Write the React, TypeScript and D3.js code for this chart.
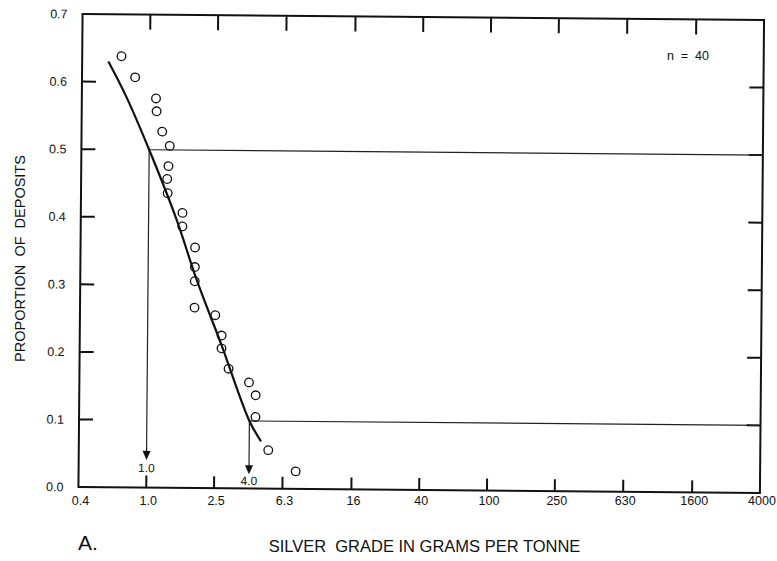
import React from "react";
import * as d3 from "d3";

// tick values
const xTicks = [0.4, 1.0, 2.5, 6.3, 16, 40, 100, 250, 630, 1600, 4000];
const xTickLabels = ["0.4", "1.0", "2.5", "6.3", "16", "40", "100", "250", "630", "1600", "4000"];
const yTicks = [0, 0.1, 0.2, 0.3, 0.4, 0.5, 0.6, 0.7];

// deposits (grade g/t, proportion)
const grade = [0.68, 0.82, 1.09, 1.1, 1.19, 1.32, 1.3, 1.28, 1.29, 1.58, 1.58, 1.88, 1.88, 1.88, 1.88, 2.49, 2.72, 2.72, 3.0, 3.96, 4.34, 4.34, 5.18, 7.52];
const proportion = [0.638, 0.607, 0.576, 0.557, 0.527, 0.506, 0.476, 0.457, 0.436, 0.407, 0.387, 0.356, 0.327, 0.306, 0.267, 0.256, 0.226, 0.207, 0.177, 0.157, 0.138, 0.106, 0.057, 0.026];

// fitted curve
const curveGrade = [0.57, 0.73, 1.0, 1.46, 1.93, 2.72, 4.0, 4.69];
const curveProp = [0.63, 0.578, 0.5, 0.397, 0.308, 0.212, 0.1, 0.07];

// 50th and 10th percentile guides
const guideGrade = [1.0, 4.0];
const guideProp = [0.5, 0.1];
const guideTip = [0.041, 0.021];
const guideLabel = ["1.0", "4.0"];

const W = 777;
const H = 561;
const left = 80.5;
const right = 762;
const top = 17;
const bottom = 490;
const font = "'Liberation Sans', Arial, Helvetica, sans-serif";

export default function App() {
  const x = d3.scaleLog().domain([0.4, 4000]).range([left, right]);
  const y = d3.scaleLinear().domain([0, 0.7]).range([bottom, top]);

  const pts = grade.map((g, i) => ({ g, p: proportion[i] }));
  const cpts = curveGrade.map((g, i) => [x(g), y(curveProp[i])] as [number, number]);
  const line = d3.line().curve(d3.curveCatmullRom.alpha(0.5));

  return (
    <svg
      width={W}
      height={H}
      style={{ position: "absolute", left: 0, top: 0, background: "#fff" }}
      fontFamily={font}
    >
      <rect width={W} height={H} fill="#fff" />
      {/* scanned page is tilted a little */}
      <g transform="rotate(0.5 421 253)">
        <rect x={left} y={top} width={right - left} height={bottom - top} fill="none" stroke="#111" strokeWidth={2} />

        {xTicks.slice(1, -1).map((t) => (
          <g key={"xt" + t}>
            <line x1={x(t)} x2={x(t)} y1={bottom} y2={bottom - 12} stroke="#111" strokeWidth={2} />
            <line x1={x(t)} x2={x(t)} y1={top} y2={top + 15} stroke="#111" strokeWidth={2} />
          </g>
        ))}
        {yTicks.slice(1, -1).map((t) => (
          <g key={"yt" + t}>
            <line x1={left} x2={left + 14} y1={y(t)} y2={y(t)} stroke="#111" strokeWidth={2} />
            <line x1={right} x2={right - 14} y1={y(t)} y2={y(t)} stroke="#111" strokeWidth={2} />
          </g>
        ))}
        {yTicks.map((t) => (
          <text key={"yl" + t} x={left - 15} y={y(t)} dy="0.35em" textAnchor="end" fontSize={12.5} fill="#111">
            {t.toFixed(1)}
          </text>
        ))}

        {guideGrade.map((g, i) => {
          const gx = x(g);
          const tipY = y(guideTip[i]);
          return (
            <g key={"gd" + i}>
              <line x1={gx} x2={right} y1={y(guideProp[i])} y2={y(guideProp[i])} stroke="#222" strokeWidth={1.2} />
              <line x1={gx} x2={gx} y1={y(guideProp[i])} y2={tipY - 8} stroke="#222" strokeWidth={1.2} />
              <path d={`M${gx},${tipY} L${gx - 4},${tipY - 9} L${gx + 4},${tipY - 9} Z`} fill="#111" />
              <text x={gx} y={i === 0 ? bottom - 15.5 : bottom - 3.5} textAnchor="middle" fontSize={12} fill="#111">
                {guideLabel[i]}
              </text>
            </g>
          );
        })}

        <path d={line(cpts) || ""} fill="none" stroke="#111" strokeWidth={2.2} />

        {pts.map((d, i) => (
          <circle key={"pt" + i} cx={x(d.g)} cy={y(d.p)} r={4.3} fill="none" stroke="#111" strokeWidth={1.3} />
        ))}
      </g>

      {xTicks.map((t, i) => (
        <text key={"xl" + t} x={x(t)} y={504.5} textAnchor="middle" fontSize={12.5} fill="#111">
          {xTickLabels[i]}
        </text>
      ))}

      <text x={688} y={60} textAnchor="middle" fontSize={12.5} fill="#111" style={{ whiteSpace: "pre" }}>
        {"n  =  40"}
      </text>

      <text
        transform="translate(25,258.5) rotate(-90)"
        textAnchor="middle"
        fontSize={14.5}
        fill="#111"
        style={{ whiteSpace: "pre" }}
      >
        {"PROPORTION  OF  DEPOSITS"}
      </text>

      <text x={424.5} y={552} textAnchor="middle" fontSize={16.5} fill="#111" style={{ whiteSpace: "pre" }}>
        {"SILVER  GRADE IN GRAMS PER TONNE"}
      </text>

      <text x={78} y={550} fontSize={21} fill="#111">
        A.
      </text>
    </svg>
  );
}
